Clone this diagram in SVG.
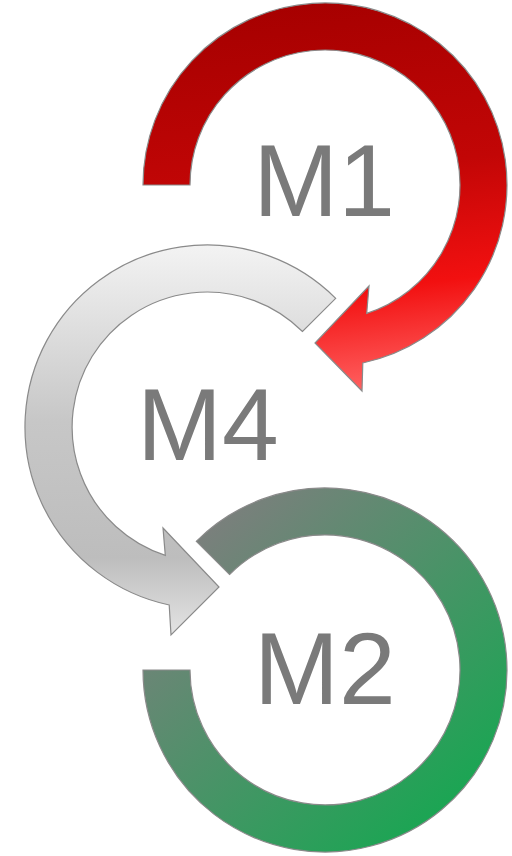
<svg xmlns="http://www.w3.org/2000/svg" width="512" height="856" viewBox="0 0 512 856">
<style>
.ring{stroke:#8a8a8a;stroke-width:1.2;stroke-linejoin:miter}
.lbl{font-family:"Liberation Sans",Arial,sans-serif;font-size:102px;fill:#7a7a7a}
</style>
<defs>
<linearGradient id="gRed" gradientUnits="userSpaceOnUse" x1="300" y1="0" x2="350" y2="392">
<stop offset="0" stop-color="#a60000"/>
<stop offset="0.45" stop-color="#c20606"/>
<stop offset="0.75" stop-color="#f21010"/>
<stop offset="1" stop-color="#ff6060"/>
</linearGradient>
<linearGradient id="gGray" gradientUnits="userSpaceOnUse" x1="0" y1="245" x2="0" y2="636">
<stop offset="0" stop-color="#f3f3f3"/>
<stop offset="0.45" stop-color="#c7c7c7"/>
<stop offset="0.8" stop-color="#bdbdbd"/>
<stop offset="1" stop-color="#e4e4e4"/>
</linearGradient>
<linearGradient id="gGreen" gradientUnits="userSpaceOnUse" x1="190" y1="525" x2="480" y2="840">
<stop offset="0" stop-color="#7e7e7e"/>
<stop offset="1" stop-color="#0faa4e"/>
</linearGradient>
</defs>
<g id="M1">
<path class="ring" fill="url(#gRed)" d="M143,185 A182,182 0 1 1 362.8,363 L362,391 L315,343 L369,286 L366.7,313.4 A135,135 0 1 0 190,185 Z"/>
<text class="lbl" x="253.2" y="216">M1</text>
</g>
<g id="M4">
<path class="ring" fill="url(#gGray)" d="M335.7,298.3 A182,182 0 1 0 169.2,605 L171,635 L219,587 L163,528 L165.3,555.4 A135,135 0 1 1 302.5,331.5 Z"/>
<text class="lbl" x="137" y="460">M4</text>
</g>
<g id="M2">
<path class="ring" fill="url(#gGreen)" d="M196.3,541.3 A182,182 0 1 1 143,670 L190,670 A135,135 0 1 0 229.5,574.5 Z"/>
<text class="lbl" x="254" y="704">M2</text>
</g>
</svg>
